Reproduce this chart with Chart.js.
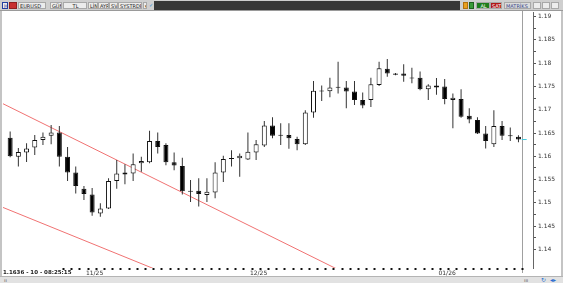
<!DOCTYPE html>
<html>
<head>
<meta charset="utf-8">
<script src="https://cdn.jsdelivr.net/npm/chart.js@4.4.1/dist/chart.umd.min.js"></script>
<style>
body{margin:0;width:563px;height:283px;overflow:hidden;background:#fff;position:relative;font-family:"DejaVu Sans",sans-serif;}
#bar{position:absolute;left:0;top:0;width:563px;height:11px;background:#cfcfcf;border-bottom:1px solid #9a9a9a;box-sizing:border-box;z-index:3;}
.b{position:absolute;top:2px;height:7px;line-height:6px;font-size:5px;color:#222;background:#ececec;border:1px solid #a8a8a8;box-sizing:border-box;padding-left:1px;white-space:nowrap;overflow:hidden;}
#frameL{position:absolute;left:0;top:11px;width:2px;height:265px;background:#c4c4c4;z-index:3;}
#frameR{position:absolute;left:561px;top:11px;width:2px;height:265px;background:#c4c4c4;z-index:3;}
#sep{position:absolute;left:522px;top:11px;width:1px;height:262px;background:#a0a0a0;z-index:0;}
#status{position:absolute;left:3px;top:268px;width:57px;height:8px;line-height:8px;font-size:5.5px;font-weight:bold;color:#222;background:#fff;z-index:3;white-space:nowrap;}
#bottom{position:absolute;left:0;top:276px;width:563px;height:7px;background:#e2e2e2;border-top:1px solid #b4b4b4;box-sizing:border-box;z-index:3;font-size:5px;color:#555;}
#c{position:absolute;left:0;top:0;z-index:1;}
</style>
</head>
<body>
<div id="bar">
  <div class="b" style="left:2px;width:6px;color:#2240a0;border-color:#2240a0;">H</div>
  <div class="b" style="left:9px;width:8px;background:#c83030;border-color:#902020;"></div>
  <div class="b" style="left:18px;width:28px;">EURUSD</div>
  <div class="b" style="left:50px;width:12px;">GÜN</div>
  <div class="b" style="left:63px;width:24px;text-align:center;">TL</div>
  <div class="b" style="left:88px;width:10px;">LİN</div>
  <div class="b" style="left:98px;width:11px;">AYR</div>
  <div class="b" style="left:109px;width:9px;">SVB</div>
  <div class="b" style="left:118px;width:24px;">SYSTRDP</div>
  <div class="b" style="left:143px;width:4px;">▾</div>
  <div class="b" style="left:148px;width:5px;color:#2a8ad4;background:none;border:none;">✓</div>
  <div style="position:absolute;left:154px;top:1px;width:306px;height:0;border-top:9px solid #383838;"></div>
  <div class="b" style="left:463px;width:5px;background:#e8a020;border-color:#b07010;"></div>
  <div class="b" style="left:469px;width:5px;background:#3a9a3a;border-color:#206020;"></div>
  <div class="b" style="left:476px;width:14px;background:#1e7d1e;color:#fff;text-align:center;">AL</div>
  <div class="b" style="left:490px;width:12px;background:#b01818;color:#fff;text-align:center;">SAT</div>
  <div class="b" style="left:504px;width:27px;background:#dcdcdc;color:#334488;">MATRİKS</div>
  <div class="b" style="left:533px;width:8px;"></div>
  <div class="b" style="left:542px;width:8px;"></div>
  <div class="b" style="left:551px;width:8px;"></div>
</div>
<div id="frameL"></div>
<div id="frameR"></div>
<div id="sep"></div>
<canvas id="c" width="563" height="283"></canvas>
<div id="status">1.1636 - 10 - 08:25:15</div>
<div id="bottom">
  <span style="position:absolute;left:4px;top:0;">ıı</span>
  <span style="position:absolute;left:524px;top:0;">ııı</span>
  <span style="position:absolute;left:541px;top:-1px;color:#2a6fd0;font-size:6px;">↻</span>
  <span style="position:absolute;left:550px;top:-1px;color:#2a6fd0;font-size:6px;">◂▸</span>
</div>
<script>
// daily EURUSD candles
var opens  = [1.1640,1.1599,1.1608,1.1619,1.1635,1.1644,1.1651,1.1599,1.1565,1.1530,
              1.1518,1.1477,1.1488,1.1547,1.1561,1.1563,1.1585,1.1587,1.1633,1.1624,
              1.1587,1.1579,1.1524,1.1526,1.1517,1.1522,1.1565,1.1594,1.1596,1.1593,
              1.1608,1.1623,1.1666,1.1644,1.1646,1.1637,1.1626,1.1694,1.1741,1.1740,
              1.1749,1.1748,1.1739,1.1721,1.1721,1.1753,1.1788,1.1778,1.1778,1.1769,
              1.1769,1.1744,1.1752,1.1750,1.1721,1.1723,1.1687,1.1678,1.1649,1.1626,
              1.1665,1.1645,1.1642];
var highs  = [1.1653,1.1618,1.1628,1.1646,1.1651,1.1667,1.1665,1.1620,1.1578,1.1536,
              1.1532,1.1499,1.1553,1.1592,1.1583,1.1606,1.1599,1.1655,1.1651,1.1628,
              1.1608,1.1597,1.1549,1.1553,1.1553,1.1587,1.1601,1.1613,1.1606,1.1651,
              1.1635,1.1676,1.1684,1.1671,1.1671,1.1642,1.1699,1.1762,1.1752,1.1769,
              1.1803,1.1762,1.1762,1.1737,1.1769,1.1803,1.1809,1.1779,1.1798,1.1790,
              1.1782,1.1755,1.1768,1.1766,1.1735,1.1744,1.1703,1.1684,1.1665,1.1699,
              1.1676,1.1662,1.1645];
var lows   = [1.1598,1.1578,1.1588,1.1603,1.1624,1.1626,1.1578,1.1547,1.1520,1.1506,
              1.1472,1.1470,1.1487,1.1530,1.1540,1.1547,1.1567,1.1585,1.1606,1.1581,
              1.1570,1.1518,1.1502,1.1492,1.1502,1.1510,1.1545,1.1578,1.1556,1.1592,
              1.1592,1.1620,1.1639,1.1624,1.1616,1.1613,1.1624,1.1683,1.1719,1.1727,
              1.1735,1.1703,1.1710,1.1703,1.1706,1.1751,1.1771,1.1774,1.1760,1.1757,
              1.1742,1.1721,1.1732,1.1712,1.1660,1.1683,1.1671,1.1648,1.1617,1.1620,
              1.1635,1.1633,1.1630];
var closes = [1.1600,1.1609,1.1617,1.1635,1.1642,1.1651,1.1599,1.1565,1.1536,1.1519,
              1.1479,1.1488,1.1547,1.1563,1.1565,1.1583,1.1590,1.1633,1.1620,1.1587,
              1.1580,1.1525,1.1526,1.1519,1.1524,1.1565,1.1594,1.1596,1.1601,1.1610,
              1.1626,1.1666,1.1644,1.1646,1.1639,1.1626,1.1694,1.1741,1.1739,1.1748,
              1.1747,1.1739,1.1721,1.1709,1.1755,1.1789,1.1778,1.1775,1.1773,1.1767,
              1.1744,1.1752,1.1748,1.1723,1.1726,1.1685,1.1679,1.1649,1.1633,1.1665,
              1.1644,1.1643,1.1636];

var monthIdx    = [9, 29, 52];
var monthLabels = ['11/25', '12/25', '01/26'];
var priceTicks  = [1.14, 1.145, 1.15, 1.155, 1.16, 1.165, 1.17, 1.175, 1.18, 1.185, 1.19];

// trend lines drawn on the chart (index, price)
var upperLine = [{x: -1, y: 1.1714}, {x: 45, y: 1.1313}];
var lowerLine = [{x: -1, y: 1.1491}, {x: 25, y: 1.1305}];
var lastPrice = 1.1636;

var bodies = [], wicks = [], bodyColors = [];
for (var i = 0; i < opens.length; i++) {
  bodies.push({x: i, y: [Math.min(opens[i], closes[i]), Math.max(opens[i], closes[i])]});
  wicks.push({x: i, y: [lows[i], highs[i]]});
  bodyColors.push(closes[i] >= opens[i] ? '#ffffff' : '#000000');
}

// minor ticks halfway between the labelled ones
var yTickVals = [];
for (var k = 0; k < priceTicks.length; k++) {
  yTickVals.push(priceTicks[k]);
  if (k < priceTicks.length - 1) yTickVals.push((priceTicks[k] + priceTicks[k + 1]) / 2);
}

var ctx = document.getElementById('c');
var chart = new Chart(ctx, {
  type: 'bar',
  data: {
    datasets: [
      {
        label: 'body',
        data: bodies,
        backgroundColor: bodyColors,
        borderColor: '#111',
        borderWidth: 1,
        borderSkipped: false,
        barThickness: 5,
        minBarLength: 1,
        grouped: false,
        inflateAmount: 0
      },
      {
        label: 'wick',
        data: wicks,
        backgroundColor: '#333',
        borderWidth: 0,
        barThickness: 1,
        grouped: false,
        inflateAmount: 0
      },
      {
        type: 'line',
        label: 'upper',
        data: upperLine,
        borderColor: '#f07272',
        borderWidth: 1,
        pointRadius: 0
      },
      {
        type: 'line',
        label: 'lower',
        data: lowerLine,
        borderColor: '#f07272',
        borderWidth: 1,
        pointRadius: 0
      },
      {
        type: 'line',
        label: 'last',
        data: [{x: 62.4, y: lastPrice}, {x: 63.0, y: lastPrice}],
        borderColor: '#40c8dc',
        borderWidth: 1,
        pointRadius: 0,
        clip: false
      }
    ]
  },
  options: {
    responsive: false,
    animation: false,
    events: [],
    layout: {padding: {left: 3, top: 12, right: 0, bottom: 0}},
    plugins: {legend: {display: false}, tooltip: {enabled: false}},
    scales: {
      x: {
        type: 'linear',
        position: 'bottom',
        min: -0.36,
        max: 63.26,
        afterBuildTicks: function(s) {
          s.ticks = opens.map(function(_, i) { return {value: i}; });
        },
        afterFit: function(s) { s.height = 15; },
        ticks: {
          autoSkip: false,
          maxRotation: 0,
          align: 'start',
          labelOffset: 2,
          padding: 0,
          color: '#333',
          font: {size: 6, family: 'DejaVu Sans'},
          callback: function(v) {
            var k = monthIdx.indexOf(v);
            return k >= 0 ? monthLabels[k] : '';
          }
        },
        grid: {drawOnChartArea: false, tickLength: 2, tickWidth: 2, color: '#111'},
        border: {display: false}
      },
      y: {
        type: 'linear',
        position: 'right',
        min: 1.136,
        max: 1.191,
        afterBuildTicks: function(s) {
          s.ticks = yTickVals.map(function(v) { return {value: v}; });
        },
        afterFit: function(s) { s.width = 30; },
        ticks: {
          autoSkip: false,
          padding: 2,
          color: '#333',
          font: {size: 6, family: 'DejaVu Sans'},
          callback: function(v) {
            for (var j = 0; j < priceTicks.length; j++) {
              if (Math.abs(priceTicks[j] - v) < 1e-7) return String(priceTicks[j]);
            }
            return '';
          }
        },
        grid: {drawOnChartArea: false, tickLength: 3, color: '#555'},
        border: {display: true, color: '#666'}
      }
    }
  }
});
</script>
</body>
</html>
